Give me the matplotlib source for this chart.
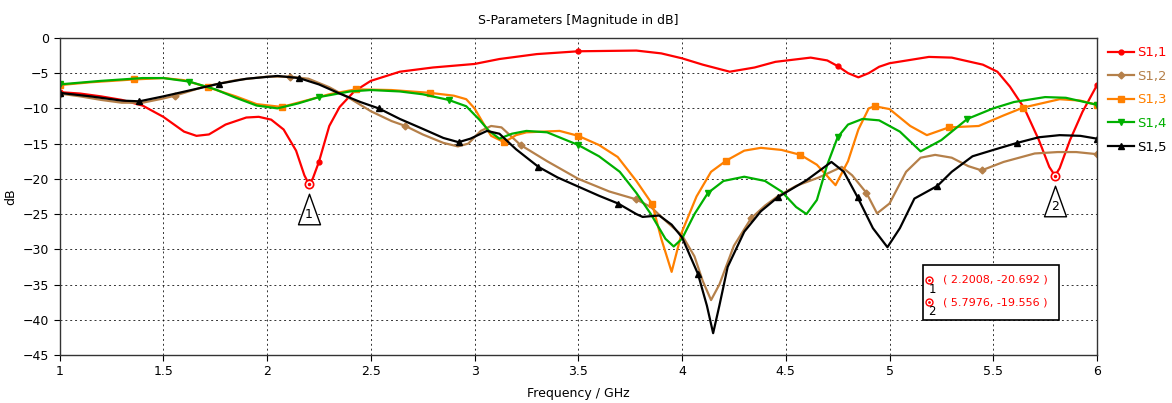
import numpy as np
import matplotlib
matplotlib.use('Agg')
import matplotlib.pyplot as plt
from matplotlib.transforms import ScaledTranslation
from matplotlib.path import Path

# S1,1
f11 = [1.0, 1.1, 1.2, 1.3, 1.4, 1.5, 1.6, 1.66, 1.72, 1.8, 1.9, 1.96, 2.02, 2.08, 2.14, 2.18,
       2.2008, 2.22, 2.25, 2.3, 2.35, 2.42, 2.5, 2.64, 2.8, 3.0, 3.12, 3.3, 3.5, 3.78, 3.9, 4.0,
       4.1, 4.23, 4.35, 4.45, 4.62, 4.7, 4.75, 4.8, 4.85, 4.9, 4.95, 5.0, 5.19, 5.3, 5.45, 5.52,
       5.58, 5.65, 5.72, 5.77, 5.7976, 5.82, 5.87, 5.93, 6.0]
s11 = [-7.7, -7.9, -8.3, -8.8, -9.6, -11.2, -13.3, -13.9, -13.7, -12.3, -11.3, -11.2, -11.6, -13.0, -16.0, -19.5,
       -20.692, -20.0, -17.6, -12.5, -9.8, -7.6, -6.1, -4.8, -4.2, -3.7, -3.0, -2.3, -1.9, -1.8, -2.2, -2.9,
       -3.8, -4.8, -4.2, -3.4, -2.8, -3.2, -4.0, -5.0, -5.6, -5.0, -4.1, -3.6, -2.7, -2.8, -3.8, -4.8,
       -6.9, -10.0, -14.5, -18.3, -19.556, -18.5, -14.5, -10.5, -6.7]

# S1,2
f12 = [1.0, 1.1, 1.2, 1.3, 1.4, 1.5, 1.556, 1.7, 1.85, 2.0, 2.111, 2.2, 2.3, 2.4, 2.5, 2.6, 2.667,
       2.75, 2.85, 2.92, 2.97, 3.03, 3.08, 3.13, 3.222, 3.35, 3.5, 3.65, 3.778, 3.85, 3.93, 4.0,
       4.06, 4.1, 4.14, 4.18, 4.25, 4.333, 4.4, 4.46, 4.55, 4.66, 4.77, 4.82, 4.889, 4.94, 5.0,
       5.08, 5.15, 5.22, 5.3, 5.38, 5.444, 5.55, 5.7, 5.81, 5.9, 6.0]
s12 = [-7.9, -8.3, -8.8, -9.2, -9.2, -8.6, -8.2, -6.9, -6.0, -5.5, -5.5, -5.8, -7.0, -8.6, -10.4, -11.8, -12.5,
       -13.7, -14.9, -15.4, -15.0, -13.2, -12.5, -12.7, -15.2, -17.5, -20.0, -21.8, -22.9, -24.0, -26.2, -28.0,
       -31.0, -34.5, -37.2, -35.0, -29.5, -25.6, -23.8, -22.5, -21.0, -19.8, -18.3, -19.5, -22.0, -24.9, -23.5,
       -19.0, -17.0, -16.6, -17.0, -18.2, -18.8, -17.6, -16.4, -16.2, -16.2, -16.5]

# S1,3
f13 = [1.0, 1.15, 1.357, 1.5, 1.6, 1.714, 1.85, 1.95, 2.071, 2.2, 2.3, 2.429, 2.6, 2.786, 2.9, 2.96,
       3.0, 3.04, 3.08, 3.143, 3.2, 3.25, 3.41, 3.5, 3.6, 3.69, 3.78, 3.857, 3.9, 3.95, 4.0, 4.07,
       4.14, 4.214, 4.3, 4.38, 4.48, 4.571, 4.65, 4.74, 4.8, 4.85, 4.9, 4.929, 5.0, 5.1, 5.18,
       5.286, 5.43, 5.55, 5.643, 5.82, 5.92, 6.0]
s13 = [-6.7, -6.3, -5.9, -5.7, -6.0, -7.0, -8.3, -9.4, -9.8, -8.8, -8.0, -7.3, -7.4, -7.8, -8.2, -8.7,
       -10.0, -12.0, -13.9, -14.8, -13.8, -13.4, -13.2, -13.9, -15.2, -16.9, -20.3, -23.6, -28.5, -33.2, -27.5, -22.5,
       -19.0, -17.4, -16.0, -15.6, -15.9, -16.6, -18.0, -20.9, -17.5, -13.0, -10.0, -9.7, -10.1, -12.5, -13.8,
       -12.7, -12.5, -11.0, -9.9, -8.7, -8.9, -9.5]

# S1,4
f14 = [1.0, 1.2, 1.4, 1.5, 1.625, 1.75, 1.85, 1.95, 2.05, 2.15, 2.25, 2.4, 2.5, 2.64, 2.75, 2.875,
       2.96, 3.02, 3.07, 3.12, 3.18, 3.25, 3.35, 3.5, 3.6, 3.7, 3.78, 3.85, 3.92, 3.96, 4.0, 4.06,
       4.125, 4.2, 4.3, 4.4, 4.48, 4.55, 4.6, 4.65, 4.7, 4.75, 4.8, 4.87, 4.95, 5.05, 5.15, 5.25,
       5.375, 5.5, 5.6, 5.75, 5.85, 6.0]
s14 = [-6.6, -6.1, -5.7, -5.7, -6.2, -7.3, -8.5, -9.6, -10.0, -9.3, -8.4, -7.6, -7.4, -7.6, -8.0, -8.8,
       -9.7, -11.5, -13.2, -14.3, -13.6, -13.2, -13.4, -15.2, -16.8, -19.0, -22.0, -25.0, -28.5, -29.6, -28.5, -25.0,
       -22.0, -20.3, -19.7, -20.3, -21.8, -24.0, -25.0, -23.0, -18.0, -14.1, -12.3, -11.5, -11.7, -13.3, -16.1, -14.5,
       -11.5, -10.0, -9.1, -8.4, -8.5, -9.5]

# S1,5
f15 = [1.0, 1.15, 1.3, 1.385, 1.5, 1.65, 1.769, 1.9, 2.05, 2.154, 2.25, 2.35, 2.45, 2.538, 2.64, 2.75,
       2.85, 2.923, 2.98, 3.06, 3.12, 3.2, 3.308, 3.4, 3.5, 3.6, 3.692, 3.78, 3.81, 3.89, 3.95, 4.0,
       4.077, 4.12, 4.15, 4.18, 4.22, 4.3, 4.38, 4.462, 4.6, 4.72, 4.78, 4.846, 4.92, 4.99, 5.05,
       5.12, 5.231, 5.3, 5.4, 5.5, 5.615, 5.72, 5.82, 5.92, 6.0]
s15 = [-7.8, -8.3, -8.9, -9.0, -8.3, -7.3, -6.5, -5.8, -5.4, -5.7, -6.6, -7.9, -9.1, -10.0, -11.5, -12.9,
       -14.2, -14.8, -14.3, -13.2, -13.6, -15.8, -18.3, -19.8, -21.1, -22.4, -23.5, -25.0, -25.4, -25.2, -26.5, -28.3,
       -33.5, -38.0, -41.9, -38.0, -32.5, -27.5, -24.6, -22.6, -20.2, -17.6, -19.0, -22.6, -27.0, -29.7, -27.0,
       -22.8, -21.0, -19.0, -16.8, -15.9, -14.9, -14.1, -13.8, -13.9, -14.3]

# marker readouts
mk_f = [2.2008, 5.7976]
mk_db = [-20.692, -19.556]
mk_labels = ['1', '2']

series = [
    ('S1,1', f11, s11, '#ff0000', 'o', 3.5, 1.25),
    ('S1,2', f12, s12, '#b5804a', 'D', 3.5, 5 / 9),
    ('S1,3', f13, s13, '#ff8000', 's', 4.5, 5 / 14),
    ('S1,4', f14, s14, '#00b000', 'v', 5, 0.625),
    ('S1,5', f15, s15, '#000000', '^', 5, 5 / 13),
]

plt.rcParams['font.family'] = 'DejaVu Sans'
fig = plt.figure(figsize=(11.72, 4.03), dpi=100)
ax = fig.add_axes([0.0508, 0.119, 0.8852, 0.787])

for name, f, s, c, m, ms, step in series:
    f = np.array(f)
    k = (f - 1) / step
    idx = [i for i in range(len(f)) if abs(k[i] - round(k[i])) < 0.01]
    ax.plot(f, s, color=c, lw=1.6, marker=m, ms=ms, markevery=idx, label=name)

# marker points
ax.plot(mk_f, mk_db, 'o', ms=6, mfc='white', mec='#ff0000', mew=1.2, zorder=5)
ax.plot(mk_f, mk_db, '.', ms=3, color='#ff0000', zorder=6)

tri = Path([(-0.36, -0.5), (0.36, -0.5), (0.0, 0.5), (-0.36, -0.5)],
           [Path.MOVETO, Path.LINETO, Path.LINETO, Path.CLOSEPOLY])
for x, y, lab in zip(mk_f, mk_db, mk_labels):
    tr = ax.transData + ScaledTranslation(0, -18 / 72, fig.dpi_scale_trans)
    ax.plot([x], [y], marker=tri, ms=22, mfc='white', mec='black', mew=1.0,
            transform=tr, zorder=7, clip_on=False)
    tr2 = ax.transData + ScaledTranslation(0, -22.5 / 72, fig.dpi_scale_trans)
    ax.text(x, y, lab, transform=tr2, ha='center', va='center', fontsize=9, zorder=8)

# readout box
ax.add_patch(plt.Rectangle((0.832, 0.110), 0.131, 0.174, transform=ax.transAxes,
                           fc='white', ec='black', lw=1.2, zorder=9))
for j, (x, y, lab) in enumerate(zip(mk_f, mk_db, mk_labels)):
    yy = 0.237 - j * 0.07
    ax.plot([0.838], [yy], 'o', ms=5, mfc='white', mec='#ff0000', mew=1.0,
            transform=ax.transAxes, zorder=10)
    ax.plot([0.838], [yy], '.', ms=2, color='#ff0000', transform=ax.transAxes, zorder=11)
    ax.text(0.841, yy - 0.03, lab, transform=ax.transAxes, fontsize=8.5, ha='center',
            va='center', zorder=10)
    ax.text(0.852, yy, f'( {x:.4f}, {y:.3f} )', transform=ax.transAxes, color='#ff0000',
            fontsize=8, va='center', ha='left', zorder=10)

ax.set_xlim(1, 6)
ax.set_ylim(-45, 0)
ax.set_xticks(np.arange(1, 6.01, 0.5))
ax.set_xticklabels(['1', '1.5', '2', '2.5', '3', '3.5', '4', '4.5', '5', '5.5', '6'])
ax.set_yticks(np.arange(-45, 1, 5))
ax.grid(True, color='black', ls=(0, (2, 3)), lw=0.7, alpha=0.8)
ax.tick_params(labelsize=9, length=4, width=0.8, direction='out')
for sp in ax.spines.values():
    sp.set_color('#333333')
    sp.set_linewidth(1.0)

ax.set_title('S-Parameters [Magnitude in dB]', fontsize=9, pad=10)
ax.set_xlabel('Frequency / GHz', fontsize=9, labelpad=6)
ax.set_ylabel('dB', fontsize=9, labelpad=4)

leg = fig.legend(loc='upper left', bbox_to_anchor=(0.945, 0.885), frameon=False,
                 fontsize=9.5, handlelength=2.0, labelspacing=0.8, handletextpad=0.25,
                 borderaxespad=0, borderpad=0)
for txt, (name, f, s, c, m, ms, step) in zip(leg.get_texts(), series):
    txt.set_color(c)

fig.savefig('out.png', dpi=100)
